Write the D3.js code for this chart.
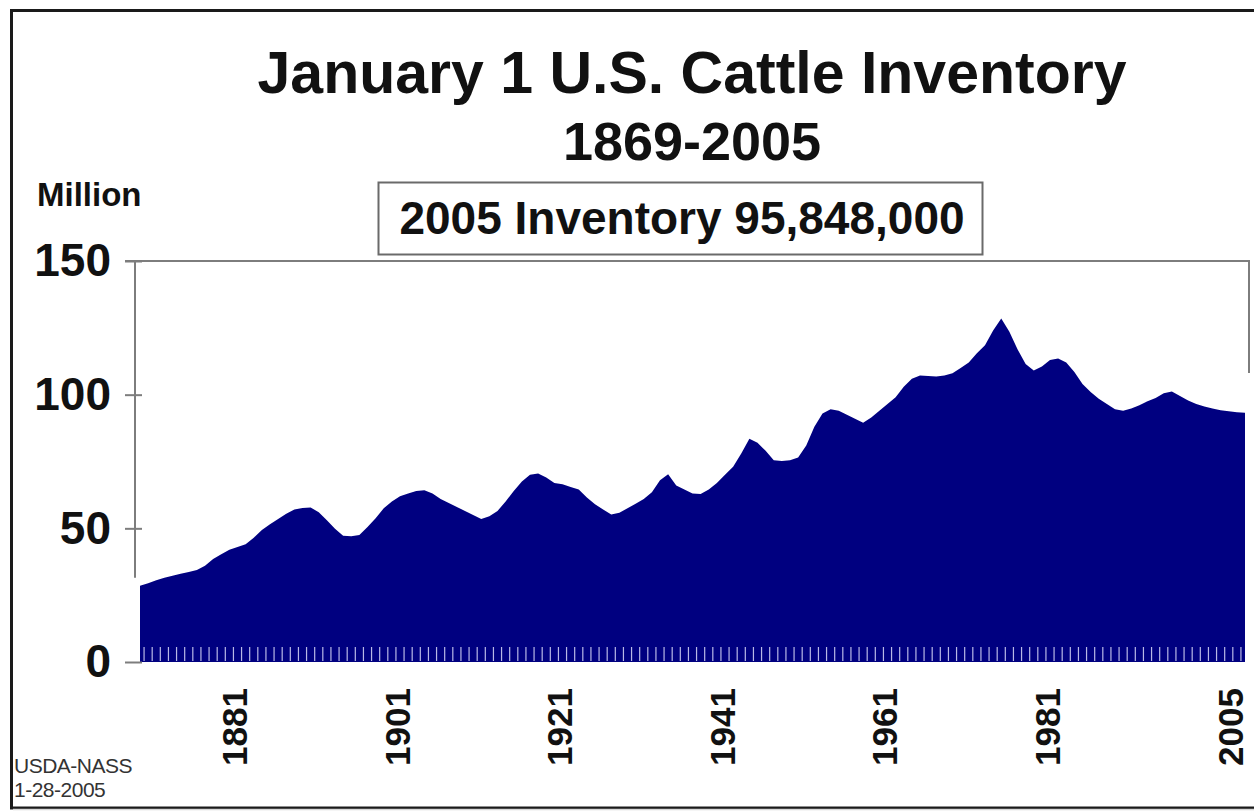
<!DOCTYPE html>
<html>
<head>
<meta charset="utf-8">
<script src="https://cdn.jsdelivr.net/npm/d3@7"></script>
<style>
  html, body { margin: 0; padding: 0; background: #fff; }
  svg { display: block; font-family: "Liberation Sans", Arial, sans-serif; }
</style>
</head>
<body>
<svg id="chart" width="1254" height="811"></svg>
<script>
// ---- data (million head, January 1 inventory) ----
const startYear = 1869;
const endYear = 2005;
const inventory = [
  28.5, 29.5, 30.6, 31.5, 32.3, 33.0, 33.7, 34.4, 36.0, 38.5,   // 1869-1878
  40.3, 42.0, 43.0, 44.0, 46.5, 49.4, 51.5, 53.5, 55.5, 57.0,   // 1879-1888
  57.6, 57.8, 56.0, 53.0, 49.8, 47.2, 47.0, 47.5, 50.5, 53.8,   // 1889-1898
  57.5, 60.0, 62.0, 63.0, 64.0, 64.2, 63.0, 61.0, 59.5, 58.0,   // 1899-1908
  56.5, 55.0, 53.5, 54.5, 56.5, 60.0, 64.0, 67.5, 70.0, 70.5,   // 1909-1918
  69.0, 67.0, 66.5, 65.5, 64.5, 61.5, 59.0, 57.0, 55.2, 55.8,   // 1919-1928
  57.5, 59.2, 61.0, 63.5, 68.0, 70.2, 66.0, 64.5, 63.0, 62.8,   // 1929-1938
  64.5, 67.0, 70.0, 73.0, 78.0, 83.5, 82.0, 79.0, 75.5, 75.2,   // 1939-1948
  75.5, 76.5, 81.0, 88.0, 93.0, 94.5, 94.0, 92.5, 91.0, 89.5,   // 1949-1958
  91.5, 94.0, 96.5, 99.0, 103.0, 106.0, 107.2, 107.0, 106.8, 107.2, // 1959-1968
  108.0, 110.0, 112.0, 115.5, 118.5, 124.0, 128.5, 123.5, 117.0, 111.5, // 1969-1978
  109.0, 110.5, 113.0, 113.5, 112.0, 108.5, 104.0, 101.0, 98.5, 96.5,   // 1979-1988
  94.5, 94.0, 94.8, 96.0, 97.5, 98.8, 100.5, 101.2, 99.5, 97.8,         // 1989-1998
  96.5, 95.6, 94.8, 94.2, 93.8, 93.4, 93.2                              // 1999-2005
];
const years = d3.range(startYear, endYear + 1);
const yTickValues = [0, 50, 100, 150];
const xTickLabels = ["1881", "1901", "1921", "1941", "1961", "1981", "2005"];

const titleText = "January 1 U.S. Cattle Inventory";
const subtitleText = "1869-2005";
const boxText = "2005 Inventory 95,848,000";
const unitText = "Million";
const sourceLines = ["USDA-NASS", "1-28-2005"];

// ---- layout ----
const svg = d3.select("#chart");
const navy = "#000080";
const axisGray = "#7d7d7d";

const x = d3.scaleLinear().domain([startYear, endYear]).range([140, 1245]);
const y = d3.scaleLinear().domain([0, 150]).range([662, 261]);

// outer frame
svg.append("rect")
  .attr("x", 11.5).attr("y", 10.5)
  .attr("width", 1300).attr("height", 797.5)
  .attr("fill", "none").attr("stroke", "#1a1a1a").attr("stroke-width", 3);
svg.append("line")
  .attr("x1", 13).attr("x2", 1254).attr("y1", 809.5).attr("y2", 809.5)
  .attr("stroke", "#d8d8d8").attr("stroke-width", 1.5);

// titles
svg.append("text")
  .attr("x", 692).attr("y", 93)
  .attr("text-anchor", "middle")
  .attr("font-weight", "bold").attr("font-size", 59)
  .attr("fill", "#111")
  .text(titleText);
svg.append("text")
  .attr("x", 692).attr("y", 160)
  .attr("text-anchor", "middle")
  .attr("font-weight", "bold").attr("font-size", 54)
  .attr("fill", "#111")
  .text(subtitleText);

// inventory box
svg.append("rect")
  .attr("x", 378.5).attr("y", 182.5)
  .attr("width", 604).attr("height", 72)
  .attr("fill", "#fff").attr("stroke", "#6a6a6a").attr("stroke-width", 2);
svg.append("text")
  .attr("x", 682).attr("y", 234)
  .attr("text-anchor", "middle")
  .attr("font-weight", "bold").attr("font-size", 46)
  .attr("fill", "#111")
  .text(boxText);

// unit label
svg.append("text")
  .attr("x", 37).attr("y", 206)
  .attr("font-weight", "bold").attr("font-size", 33)
  .attr("fill", "#111")
  .text(unitText);

// plot frame: top and right edges
svg.append("line")
  .attr("x1", 125).attr("x2", 1250).attr("y1", y(150)).attr("y2", y(150))
  .attr("stroke", axisGray).attr("stroke-width", 2);
svg.append("line")
  .attr("x1", 1249).attr("x2", 1249).attr("y1", y(150)).attr("y2", 373)
  .attr("stroke", axisGray).attr("stroke-width", 2);

// area
const area = d3.area()
  .x((d, i) => x(years[i]))
  .y0(y(0))
  .y1(d => y(d))
  .curve(d3.curveLinear);
svg.append("path")
  .datum(inventory)
  .attr("d", area)
  .attr("fill", navy);

// category tick comb over the bottom of the area
svg.append("g")
  .selectAll("line")
  .data(years.slice(0, -1))
  .join("line")
  .attr("x1", d => x(d + 0.5)).attr("x2", d => x(d + 0.5))
  .attr("y1", y(0) - 15).attr("y2", y(0) - 1)
  .attr("stroke", "#b9b9e6").attr("stroke-width", 1.2);

// y axis
const yAxis = d3.axisLeft(y).tickValues(yTickValues).tickSize(10).tickPadding(14);
const gy = svg.append("g").attr("transform", "translate(135,0)").call(yAxis);
gy.select(".domain").remove();
gy.selectAll(".tick line")
  .attr("x1", -10).attr("x2", 7)
  .attr("stroke", axisGray).attr("stroke-width", 2);
gy.selectAll(".tick text")
  .attr("font-family", "Liberation Sans, Arial, sans-serif")
  .attr("font-weight", "bold").attr("font-size", 46)
  .attr("fill", "#111");
svg.append("line")
  .attr("x1", 135).attr("x2", 135)
  .attr("y1", y(150)).attr("y2", y(31.5))
  .attr("stroke", axisGray).attr("stroke-width", 2);

// x labels (rotated); the last one is nudged so it stays inside the page
const gx = svg.append("g");
gx.selectAll("text")
  .data(xTickLabels)
  .join("text")
  .attr("transform", (d, i) => {
    const px = Math.min(x(+d) - 3, 1230);
    return `translate(${px},688) rotate(-90)`;
  })
  .attr("text-anchor", "end")
  .attr("dy", "0.36em")
  .attr("font-weight", "bold").attr("font-size", 35)
  .attr("fill", "#111")
  .text(d => d);

// source note
svg.append("g")
  .selectAll("text")
  .data(sourceLines)
  .join("text")
  .attr("x", 14).attr("y", (d, i) => 773 + i * 24)
  .attr("font-size", 21)
  .attr("letter-spacing", -0.5)
  .attr("fill", "#333")
  .text(d => d);
</script>
</body>
</html>
